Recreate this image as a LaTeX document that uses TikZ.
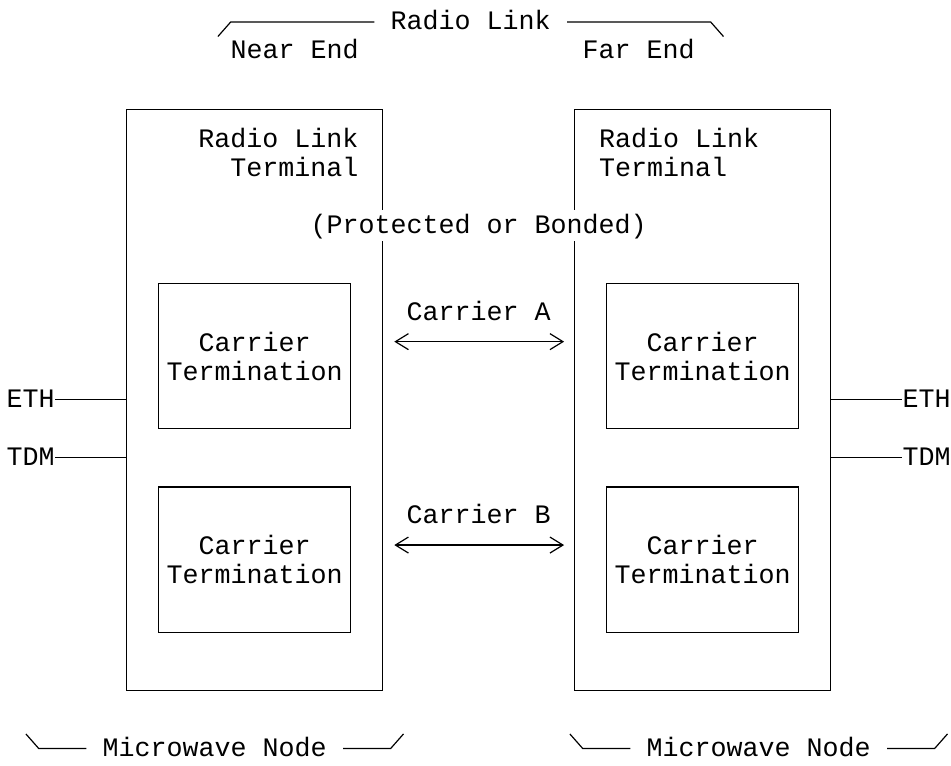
\documentclass[tikz,border=0pt]{standalone}
\usepackage{fontspec}
\setmonofont{Liberation Mono}
\usetikzlibrary{arrows.meta}

\begin{document}
\begin{tikzpicture}[x=8pt,y={(0pt,-14.53pt)},
    txt/.style={font=\ttfamily\fontsize{13.33pt}{14.53pt}\selectfont,inner sep=0pt,text height=7.6pt,text depth=0pt},
    blocktxt/.style={font=\ttfamily\fontsize{13.33pt}{14.53pt}\selectfont,inner sep=0pt},
    termbox/.style={draw,line width=0.6pt,minimum width=128pt,minimum height=290.6pt,inner sep=0pt},
    carrierbox/.style={blocktxt,draw,line width=0.6pt,align=center,minimum width=96pt,minimum height=72.65pt},
    wire/.style={line width=0.6pt},
    linkarrow/.style={wire,{Straight Barb[length=6.5pt,width=8pt]}-{Straight Barb[length=6.5pt,width=8pt]},shorten <=5.5pt,shorten >=5pt}]
  \useasboundingbox (-0.919,-0.757) rectangle (58.52,25.57);
  \pgfmathsetmacro\tickw{0.8}   % width of slanted brace ends, in columns
  \pgfmathsetmacro\tickh{0.5}   % height of slanted brace ends, in rows

% radio link brace on top
  \node[txt] (linklbl) at (28.5,0) {Radio Link};
  \coordinate (linkl) at (13.5,0);
  \coordinate (linkr) at (43.5,0);
  \draw[wire] ([xshift=-8pt]linklbl.west) -- (linkl) -- ++(-\tickw,\tickh);
  \draw[wire] ([xshift=8pt]linklbl.east) -- (linkr) -- ++(\tickw,\tickh);
  \node[txt] (nearend) at (17.5,1) {Near End};
  \node[txt] (farend) at (39,1) {Far End};

% radio link terminals
  \node[termbox] (nearrlt) at (15,13) {};
  \node[termbox] (farrlt) at (43,13) {};
  \node[blocktxt,align=right,anchor=east] (nearrltlbl) at (21.5,4.5) {Radio Link\\Terminal};
  \node[blocktxt,align=left,anchor=west] (farrltlbl) at (36.5,4.5) {Radio Link\\Terminal};
  \node[txt,fill=white,inner ysep=4pt] (prot) at (29,7) {(Protected or Bonded)};

% carrier terminations
  \node[carrierbox] (nearca) at (15,11.5) {Carrier\\Termination};
  \node[carrierbox] (nearcb) at (15,18.5) {Carrier\\Termination};
  \node[carrierbox] (farca) at (43,11.5) {Carrier\\Termination};
  \node[carrierbox] (farcb) at (43,18.5) {Carrier\\Termination};

% carriers between the two ends
  \node[txt] (carra) at (29,10) {Carrier A};
  \node[txt] (carrb) at (29,17) {Carrier B};
  \coordinate (arra) at (29,11);
  \coordinate (arrb) at (29,18);
  \draw[linkarrow] (nearrlt.east |- arra) -- (farrlt.west |- arra);
  \draw[linkarrow] (nearrlt.east |- arrb) -- (farrlt.west |- arrb);

% client interfaces
  \node[txt] (ethl) at (1,13) {ETH};
  \node[txt] (tdml) at (1,15) {TDM};
  \node[txt] (ethr) at (57,13) {ETH};
  \node[txt] (tdmr) at (57,15) {TDM};
  \draw[wire] (ethl) -- (nearrlt.west |- ethl);
  \draw[wire] (tdml) -- (nearrlt.west |- tdml);
  \draw[wire] (farrlt.east |- ethr) -- (ethr);
  \draw[wire] (farrlt.east |- tdmr) -- (tdmr);

% microwave node braces at bottom
  \node[txt] (mwnear) at (12.5,25) {Microwave Node};
  \node[txt] (mwfar) at (46.5,25) {Microwave Node};
  \coordinate (mwnearl) at (1.5,25);
  \coordinate (mwnearr) at (23.5,25);
  \coordinate (mwfarl) at (35.5,25);
  \coordinate (mwfarr) at (57.5,25);
  \draw[wire] ([xshift=-8pt]mwnear.west) -- (mwnearl) -- ++(-\tickw,-\tickh);
  \draw[wire] ([xshift=8pt]mwnear.east) -- (mwnearr) -- ++(\tickw,-\tickh);
  \draw[wire] ([xshift=-8pt]mwfar.west) -- (mwfarl) -- ++(-\tickw,-\tickh);
  \draw[wire] ([xshift=8pt]mwfar.east) -- (mwfarr) -- ++(\tickw,-\tickh);
\end{tikzpicture}
\end{document}
